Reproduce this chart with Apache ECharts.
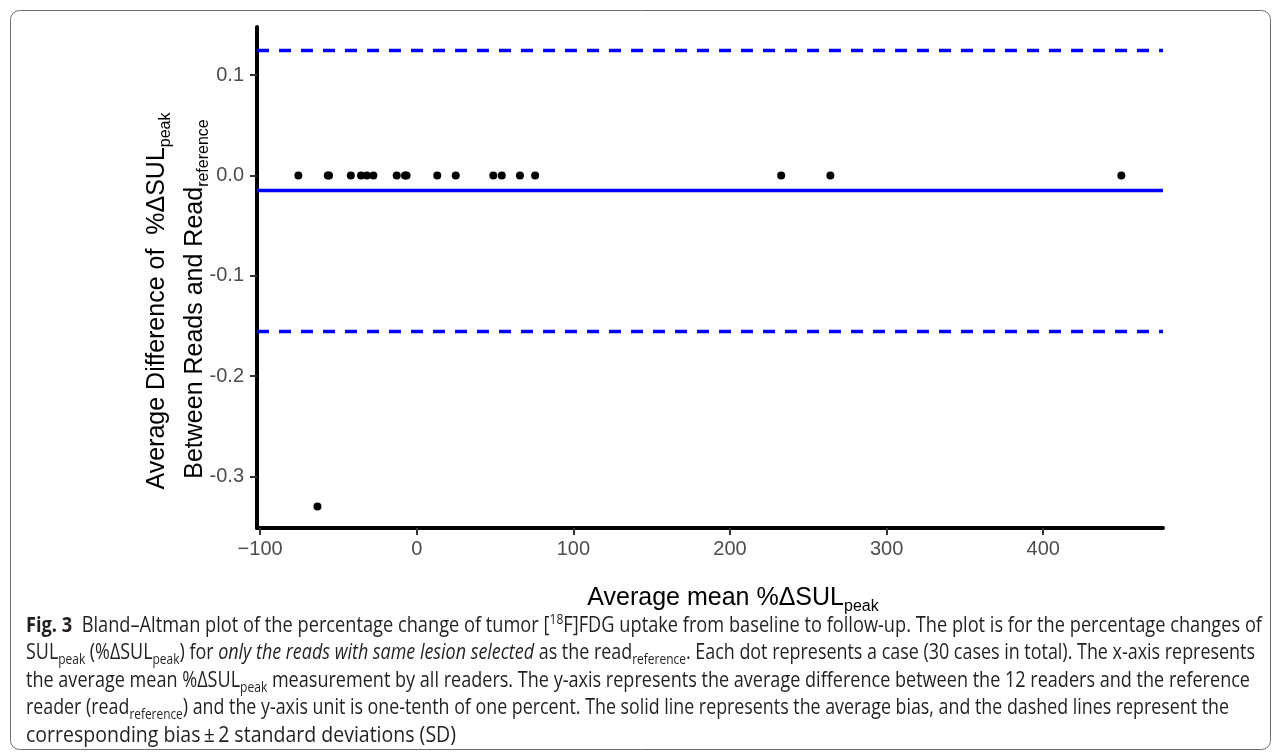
<!DOCTYPE html>
<html><head><meta charset="utf-8">
<script src="https://cdn.jsdelivr.net/npm/echarts@6/dist/echarts.min.js"></script>
<style>html,body{margin:0;padding:0;background:#fff}#c{width:1281px;height:753px}</style>
</head><body><div id="c"></div>
<script>
// ---- data ----
const meanPctChange = [-75.6, -63.4, -56.8, -56.0, -42.1, -35.6, -31.9, -27.7, -12.8, -7.5, -6.5, 13.1, 24.9, 48.9, 54.3, 65.9, 75.6, 232.7, 264.1, 449.9];
const avgDifference = [0, -0.33, 0, 0, 0, 0, 0, 0, 0, 0, 0, 0, 0, 0, 0, 0, 0, 0, 0, 0];
const biasMean = -0.015;
const upperLimit = 0.125;
const lowerLimit = -0.155;
const xTickValues = [-100, 0, 100, 200, 300, 400];
const yTickValues = [-0.3, -0.2, -0.1, 0, 0.1];
const xRange = [-102, 476.5];
const yRange = [-0.3515, 0.148];

const captionLines = [
  '{b|Fig. 3}  Bland\u2013Altman plot of the percentage change of tumor [{sup|18}F]FDG uptake from baseline to follow-up. The plot is for the percentage changes of',
  'SUL{s|peak} (%\u0394SUL{s|peak}) for {i|only the reads with same lesion selected} as the read{s|reference}. Each dot represents a case (30 cases in total). The x-axis represents',
  'the average mean %\u0394SUL{s|peak} measurement by all readers. The y-axis represents the average difference between the 12 readers and the reference',
  'reader (read{s|reference}) and the y-axis unit is one-tenth of one percent. The solid line represents the average bias, and the dashed lines represent the',
  'corresponding bias\u2009\u00b1\u20092 standard deviations (SD)'
];
const xTitle = 'Average mean %\u0394SUL{s|peak}';
const yTitle1 = 'Average Difference of  %\u0394SUL{s|peak}';
const yTitle2 = 'Between Reads and Read{s|reference}';

// ---- styling ----
const AF = "'Liberation Sans', Arial, sans-serif";
const CF = "'Open Sans', 'Liberation Sans', sans-serif";
const capBase = {fontSize: 21, fontFamily: CF, fill: '#231f20', lineHeight: 28};
const capRich = {
  b: {fontSize: 21, fontFamily: CF, fontWeight: 'bold', fill: '#231f20', lineHeight: 28},
  i: {fontSize: 21, fontFamily: CF, fontStyle: 'italic', fill: '#231f20', lineHeight: 28},
  s: {fontSize: 14, fontFamily: CF, fill: '#231f20', verticalAlign: 'top', padding: [14, 0, 0, 0], lineHeight: 28},
  sup: {fontSize: 14, fontFamily: CF, fill: '#231f20', verticalAlign: 'top', padding: [1, 0, 0, 0], lineHeight: 28}
};
const axRich = {
  s: {fontSize: 16, fontFamily: AF, fill: '#000', verticalAlign: 'top', padding: [16, 0, 0, 0], lineHeight: 31}
};

function richWidth(str, base, rich) {
  const ctx = document.createElement('canvas').getContext('2d');
  let w = 0, m;
  const re = /\{(\w+)\|([^}]*)\}|([^{]+)/g;
  while ((m = re.exec(str))) {
    const st = m[1] ? rich[m[1]] : base;
    const t = m[1] ? m[2] : m[3];
    ctx.font = (st.fontStyle || 'normal') + ' ' + (st.fontWeight || 'normal') + ' ' + st.fontSize + 'px ' + st.fontFamily;
    w += ctx.measureText(t).width;
  }
  return w;
}

// caption layout: left edge, right edge of each line, vertical placement
const capLeft = 26, capTop = 626, capStep = 27.5;
const capLineEnds = [1262, 1255, 1250, 1229, 456];

const graphics = [
  {type: 'rect', silent: true, shape: {x: 10.5, y: 10.5, width: 1260, height: 739, r: 9},
   style: {fill: 'none', stroke: '#6d6d6d', lineWidth: 1}},
  {type: 'text', x: 733, y: 598, silent: true,
   style: {text: xTitle, align: 'center', verticalAlign: 'middle', fontSize: 25, fontFamily: AF, fill: '#000', lineHeight: 31, rich: axRich}},
  {type: 'text', x: 157, y: 301, rotation: Math.PI / 2, silent: true,
   style: {text: yTitle1, align: 'center', verticalAlign: 'middle', fontSize: 25, fontFamily: AF, fill: '#000', lineHeight: 31, rich: axRich}},
  {type: 'text', x: 195, y: 299, rotation: Math.PI / 2, silent: true,
   style: {text: yTitle2, align: 'center', verticalAlign: 'middle', fontSize: 25, fontFamily: AF, fill: '#000', lineHeight: 31, rich: axRich}}
];
captionLines.forEach(function (line, k) {
  const sc = (capLineEnds[k] - capLeft) / richWidth(line, capBase, capRich);
  graphics.push({type: 'text', x: capLeft, y: capTop + k * capStep, scaleX: sc, silent: true,
    style: Object.assign({text: line, align: 'left', verticalAlign: 'middle', rich: capRich}, capBase)});
});

const chart = echarts.init(document.getElementById('c'), null, {renderer: 'canvas'});
chart.setOption({
  animation: false,
  backgroundColor: '#fff',
  grid: {left: 257, right: 118, top: 27, bottom: 225, containLabel: false},
  xAxis: {
    type: 'value', min: xRange[0], max: xRange[1],
    axisLine: {show: true, onZero: false, lineStyle: {color: '#000', width: 4}},
    axisTick: {show: true, customValues: xTickValues, length: 7, lineStyle: {color: '#333', width: 2}},
    axisLabel: {customValues: xTickValues, fontSize: 20, fontFamily: AF, color: '#4d4d4d', margin: 11,
      formatter: function (v) { return v < 0 ? '\u2212' + Math.abs(v) : String(v); }},
    splitLine: {show: false}
  },
  yAxis: {
    type: 'value', min: yRange[0], max: yRange[1],
    axisLine: {show: true, onZero: false, lineStyle: {color: '#000', width: 4}},
    axisTick: {show: true, customValues: yTickValues, length: 7, lineStyle: {color: '#333', width: 2}},
    axisLabel: {customValues: yTickValues, fontSize: 20, fontFamily: AF, color: '#4d4d4d', margin: 13,
      formatter: function (v) { return v.toFixed(1); }},
    splitLine: {show: false}
  },
  series: [{
    type: 'scatter',
    data: meanPctChange.map(function (x, i) { return [x, avgDifference[i]]; }),
    symbol: 'circle', symbolSize: 8,
    itemStyle: {color: '#000', opacity: 1},
    z: 3,
    markLine: {
      silent: true, symbol: ['none', 'none'], label: {show: false}, animation: false, precision: 5,
      lineStyle: {color: '#0000ff', width: 3.4},
      data: [
        {yAxis: upperLimit, lineStyle: {type: [12, 10], color: '#0000ff', width: 3.4}},
        {yAxis: biasMean, lineStyle: {type: 'solid', color: '#0000ff', width: 3.4}},
        {yAxis: lowerLimit, lineStyle: {type: [12, 10], color: '#0000ff', width: 3.4}}
      ]
    }
  }],
  graphic: graphics
});
</script>
</body></html>
